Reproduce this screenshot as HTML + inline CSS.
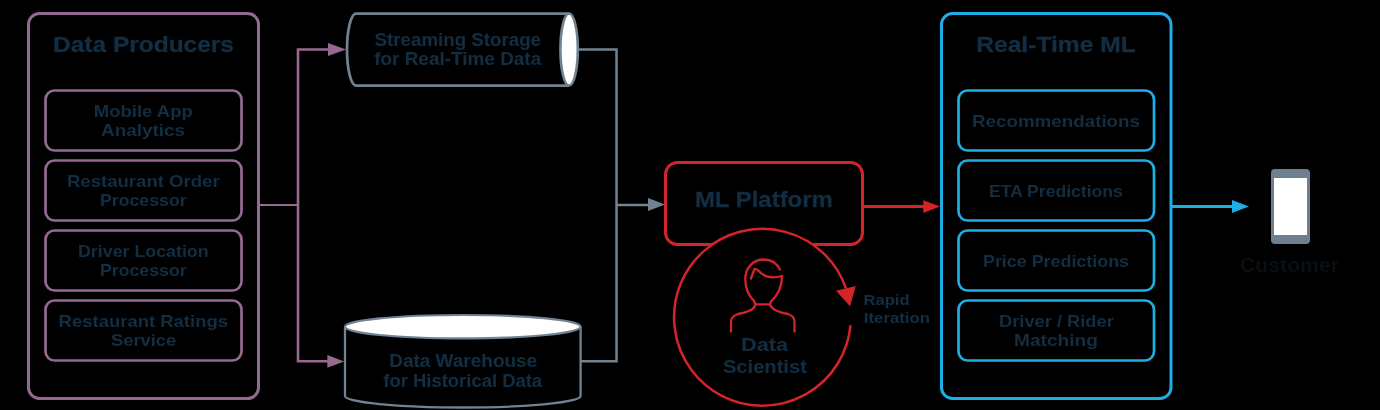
<!DOCTYPE html>
<html><head><meta charset="utf-8">
<style>
html,body{margin:0;padding:0;background:#000;width:1380px;height:410px;overflow:hidden}
svg{display:block;will-change:transform}
text{font-family:"Liberation Sans",sans-serif;font-weight:bold;fill:#132e42;stroke:#132e42;stroke-width:0;text-anchor:middle}
.s{font-size:16.5px}
.h{font-size:22px;stroke-width:0.3px}
</style></head><body>
<svg width="1380" height="410" viewBox="0 0 1380 410">
<rect x="0" y="0" width="1380" height="410" fill="#000"/>
<!-- Data Producers -->
<g fill="none" stroke="#966991" stroke-width="3">
<rect x="28.5" y="13.5" width="230" height="385" rx="11"/>
<rect x="45.5" y="90.5" width="196" height="60" rx="9" stroke-width="2.7"/>
<rect x="45.5" y="160.5" width="196" height="60" rx="9" stroke-width="2.7"/>
<rect x="45.5" y="230.5" width="196" height="60" rx="9" stroke-width="2.7"/>
<rect x="45.5" y="300.5" width="196" height="60" rx="9" stroke-width="2.7"/>
<path d="M330 49.5 H298 V361.3 H328" stroke-width="2.6"/>
<path d="M258 205 H298" stroke-width="2.2"/>
</g>
<g fill="#966991">
<path d="M328 43 L346 49.5 L328 56 Z"/>
<path d="M327.3 355 L344.2 361.4 L327.3 367.8 Z"/>
</g>
<text class="h" x="143.5" y="51.5" textLength="181.0" lengthAdjust="spacingAndGlyphs">Data Producers</text>
<text class="s" x="143.3" y="116.7" textLength="99.0" lengthAdjust="spacingAndGlyphs">Mobile App</text>
<text class="s" x="143" y="136.3" textLength="84.0" lengthAdjust="spacingAndGlyphs">Analytics</text>
<text class="s" x="143.3" y="186.7" textLength="152.8" lengthAdjust="spacingAndGlyphs">Restaurant Order</text>
<text class="s" x="143.3" y="206.3" textLength="86.6" lengthAdjust="spacingAndGlyphs">Processor</text>
<text class="s" x="143.3" y="256.7" textLength="130.6" lengthAdjust="spacingAndGlyphs">Driver Location</text>
<text class="s" x="143.3" y="276.3" textLength="86.6" lengthAdjust="spacingAndGlyphs">Processor</text>
<text class="s" x="143.3" y="326.7" textLength="169.4" lengthAdjust="spacingAndGlyphs">Restaurant Ratings</text>
<text class="s" x="143.6" y="346.3" textLength="65.3" lengthAdjust="spacingAndGlyphs">Service</text>

<!-- Cylinders -->
<g stroke="#728291" stroke-width="2.5">
<path d="M569 13.5 H356 A9 36 0 0 0 356 85.5 H569" fill="none" stroke-width="2.75"/>
<ellipse cx="569.1" cy="49.5" rx="8.7" ry="36" fill="#fff" stroke-width="2.6"/>
<path d="M345 326.7 V396 A117.8 11.5 0 0 0 580.6 396 V326.7" fill="none" stroke-width="2.3"/>
<ellipse cx="462.8" cy="326.7" rx="117.8" ry="11.7" fill="#fff" stroke-width="2.2"/>
<path d="M578 49.5 H616.5 V361.2 H581 M616.5 204.9 H650" fill="none" stroke-width="2.5"/>
</g>
<path d="M648 198 L665 204.6 L648 211 Z" fill="#728291"/>
<text style="font-size:17.5px;stroke-width:0.1px" x="457.8" y="45.6" textLength="166.4" lengthAdjust="spacingAndGlyphs">Streaming Storage</text>
<text style="font-size:17.5px;stroke-width:0.1px" x="457.7" y="65" textLength="167.0" lengthAdjust="spacingAndGlyphs">for Real-Time Data</text>
<text style="font-size:17.5px;stroke-width:0.1px" x="463.2" y="367" textLength="148.0" lengthAdjust="spacingAndGlyphs">Data Warehouse</text>
<text style="font-size:17.5px;stroke-width:0.1px" x="462.7" y="386.5" textLength="158.8" lengthAdjust="spacingAndGlyphs">for Historical Data</text>

<!-- ML platform & circle -->
<g stroke="#d5232a" fill="none">
<rect x="665.5" y="162.5" width="197" height="82" rx="12" stroke-width="3" fill="#000"/>
<path d="M850.5 325.2 A88.4 88.4 0 1 1 846 288.4" stroke-width="2.5" fill="#000"/>
<path d="M864 206.5 H925" stroke-width="2.8"/>
<path d="M780.5 270.5 C777 263 771 259.5 764 259.5 C753 259.5 745.3 268 745.3 279 C745.3 288 749 296 754 301 L755.5 304.3 H770 L771 301.5 C777 296 782 288 782 276 C773 278.5 766 277.5 761 273 C758 270.5 756.5 268.5 754.5 269 L750.5 279.5" stroke-width="2.3"/>
<path d="M755.5 304.3 C754.5 309 750 311.5 738 314 C733 315.5 731 318 731 322 V332.5 M770 304.3 C771.5 309 776 311.5 788 314 C793 315.5 794.5 318 794.5 322 V332.5" stroke-width="2.3"/>
</g>
<g fill="#d5232a">
<path d="M923.3 200.2 L940 206.6 L923.3 213 Z"/>
<path d="M836 290.8 L855.8 286 L850 306.3 Z"/>
</g>
<text style="font-size:22.5px;stroke-width:0.3px" x="763.9" y="206.9" textLength="138.0" lengthAdjust="spacingAndGlyphs">ML Platform</text>
<text style="font-size:19px;stroke-width:0.15px" x="764.5" y="350.6" textLength="47.0" lengthAdjust="spacingAndGlyphs">Data</text>
<text style="font-size:19px;stroke-width:0.15px" x="764.9" y="373.3" textLength="84.0" lengthAdjust="spacingAndGlyphs">Scientist</text>
<text style="font-size:15.5px;text-anchor:start" x="863.5" y="305" textLength="46.0" lengthAdjust="spacingAndGlyphs">Rapid</text>
<text style="font-size:15.5px;text-anchor:start" x="863.8" y="322.5" textLength="66.2" lengthAdjust="spacingAndGlyphs">Iteration</text>

<!-- Real-Time ML -->
<g fill="none" stroke="#1eaee6" stroke-width="3">
<rect x="941.5" y="13.5" width="229.5" height="385" rx="11"/>
<rect x="958.5" y="90.5" width="195.5" height="60" rx="9" stroke-width="2.7"/>
<rect x="958.5" y="160.5" width="195.5" height="60" rx="9" stroke-width="2.7"/>
<rect x="958.5" y="230.5" width="195.5" height="60" rx="9" stroke-width="2.7"/>
<rect x="958.5" y="300.5" width="195.5" height="60" rx="9" stroke-width="2.7"/>
<path d="M1172 206.5 H1235" stroke-width="2.8"/>
</g>
<path d="M1232 200 L1249 206.5 L1232 213 Z" fill="#1eaee6"/>
<text class="h" x="1056" y="51.5" textLength="159.7" lengthAdjust="spacingAndGlyphs">Real-Time ML</text>
<text class="s" x="1056" y="126.7" textLength="168.0" lengthAdjust="spacingAndGlyphs">Recommendations</text>
<text class="s" x="1055.9" y="196.7" textLength="133.8" lengthAdjust="spacingAndGlyphs">ETA Predictions</text>
<text class="s" x="1056" y="266.7" textLength="146.0" lengthAdjust="spacingAndGlyphs">Price Predictions</text>
<text class="s" x="1056.4" y="326.7" textLength="114.8" lengthAdjust="spacingAndGlyphs">Driver / Rider</text>
<text class="s" x="1056" y="346.3" textLength="84.0" lengthAdjust="spacingAndGlyphs">Matching</text>

<!-- phone -->
<rect x="1271" y="169" width="39" height="75" rx="4" fill="#6f7f8e"/>
<rect x="1274" y="178" width="33" height="57" fill="#fff"/>
<text style="font-size:20px;fill:#0a0f13;stroke:#0a0f13;stroke-width:0.1px" x="1289.5" y="271.8" textLength="99.0" lengthAdjust="spacingAndGlyphs">Customer</text>
</svg>
</body></html>
